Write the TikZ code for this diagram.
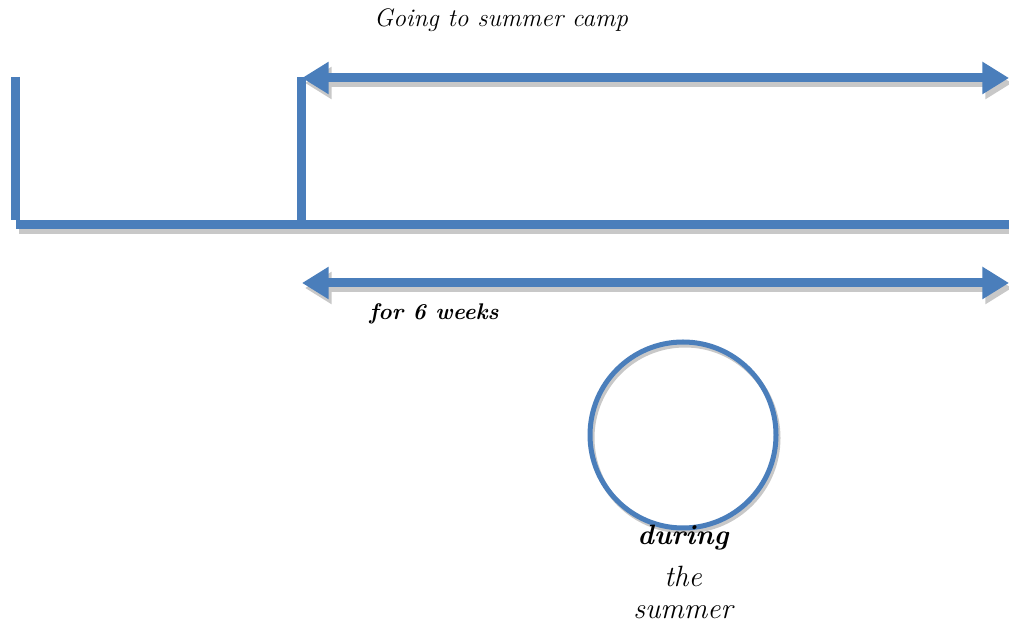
\documentclass[tikz,border=0pt]{standalone}
\usetikzlibrary{arrows.meta}
\definecolor{barblue}{RGB}{74,126,187}
\definecolor{shadowgray}{RGB}{200,200,200}
\begin{document}
\begin{tikzpicture}[x=0.75pt,y=0.75pt,
  bar/.style={draw=barblue,line width=6.75pt},
  barshadow/.style={draw=shadowgray,line width=6.75pt},
  dbl/.style={{Triangle[length=20pt,width=23pt]}-{Triangle[length=20pt,width=23pt]}},
  lbl/.style={font=\fontsize{19}{22}\selectfont\itshape,text=black,inner sep=0pt},
  blbl/.style={font=\fontsize{17}{20}\selectfont\bfseries\itshape,text=black,inner sep=0pt},
  clbl/.style={font=\fontsize{22}{26}\selectfont\itshape,text=black,inner sep=0pt},
  cblbl/.style={font=\fontsize{21}{24}\selectfont\bfseries\itshape,text=black,inner sep=0pt}]
\useasboundingbox[fill=white] (0,0) rectangle (1009,627);
% coordinates
\coordinate (v1top) at (15,550);
\coordinate (v1bot) at (15,407);
\coordinate (v2top) at (301,550);
\coordinate (v2bot) at (301,407);
\coordinate (hl) at (16,402);
\coordinate (hr) at (1009,402);
\coordinate (a1l) at (302,549);
\coordinate (a1r) at (1009,549);
\coordinate (a2l) at (302,344);
\coordinate (a2r) at (1009,344);
\coordinate (cc) at (683,192);
% shadows
\tikzset{sh/.style={shift={(3,-5)}}}
\draw[barshadow] ([sh]hl) -- ([sh]hr);
\draw[barshadow,dbl,fill=shadowgray] ([sh]a1l) -- ([sh]a1r);
\draw[barshadow,dbl,fill=shadowgray] ([sh]a2l) -- ([sh]a2r);
\draw[draw=shadowgray,line width=3.75pt] ([shift={(2,-3)}]cc) circle (93);
% main shapes
\draw[bar] (v1top) -- (v1bot);
\draw[bar] (v2top) -- (v2bot);
\draw[bar] (hl) -- (hr);
\draw[bar,dbl,fill=barblue] (a1l) -- (a1r);
\draw[bar,dbl,fill=barblue] (a2l) -- (a2r);
\node[draw=barblue,line width=3.75pt,circle,minimum size=186*0.75pt,inner sep=0pt] (c) at (cc) {};
% labels
\node[lbl] (t1) at (501,607) {Going to summer camp};
\node[blbl] (t2) at (434,313) {for 6 weeks};
\node[cblbl] (t3) at (683,89) {during};
\node[clbl] (t4) at (683,51) {the};
\node[clbl] (t5) at (683,15) {summer};
\end{tikzpicture}
\end{document}
